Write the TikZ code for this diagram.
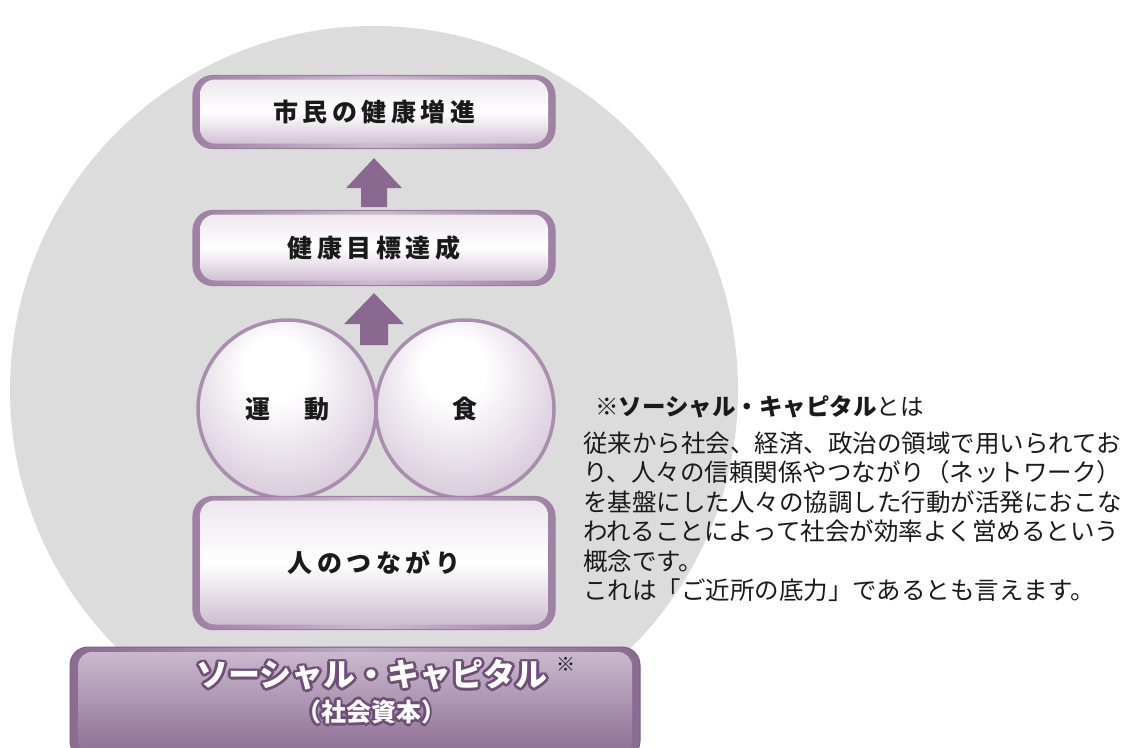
\documentclass[tikz,border=0pt]{standalone}
\usepackage{fontspec}
\usetikzlibrary{calc}
\newfontfamily\jp{Noto Sans CJK JP}
\newfontfamily\jpls[LetterSpace=18]{Noto Sans CJK JP}
\definecolor{bgray}{HTML}{DCDCDD}
\definecolor{boxedge}{HTML}{9E80A3}
\definecolor{boxmid}{HTML}{CDBCD0}
\definecolor{lav}{HTML}{CBB8CE}
\definecolor{boxtop}{HTML}{EDE4EE}
\definecolor{arrowc}{HTML}{8A6990}
\definecolor{circedge}{HTML}{A88EAC}
\definecolor{ballmid}{HTML}{D9CDDC}
\definecolor{ballout}{HTML}{BBA4C0}
\definecolor{bartop}{HTML}{BCA6C1}
\definecolor{barbot}{HTML}{8A6B91}
\definecolor{baredge}{HTML}{7E5F86}
\definecolor{barline}{HTML}{6E4E77}
\definecolor{txt}{HTML}{1A1A1A}
\pgfdeclareradialshading{sph}{\pgfpoint{-4bp}{14bp}}{color(0bp)=(white);color(9bp)=(white);color(30bp)=(ballmid);color(50bp)=(ballout)}
\tikzset{
  pillow/.style={rounded corners=20pt, draw=boxedge, line width=1.2pt,
    left color=boxedge, right color=boxedge, middle color=boxmid,
    minimum width=362pt, inner sep=0pt, text=txt,
    font=\jpls\bfseries\fontsize{25}{25}\selectfont,
    path picture={\shade[rounded corners=15pt, top color=boxtop, bottom color=lav, middle color=white]
      ([xshift=7pt,yshift=-4pt]path picture bounding box.north west) rectangle
      ([xshift=-7pt,yshift=5pt]path picture bounding box.south east);}},
  ball/.style={circle, minimum size=178pt, inner sep=0pt, draw=circedge, line width=3.5pt,
    shading=sph, text=txt, font=\jpls\bfseries\fontsize{25}{25}\selectfont},
  barbox/.style={rounded corners=18pt, draw=baredge, line width=1pt,
    left color=barbot, right color=barbot, middle color=bartop,
    minimum width=570pt, minimum height=112pt, inner sep=0pt,
    path picture={\shade[rounded corners=14pt, top color=bartop!75!white, bottom color=barbot]
      ([xshift=8pt,yshift=-5pt]path picture bounding box.north west) rectangle
      ([xshift=-8pt,yshift=5pt]path picture bounding box.south east);}},
  arr/.style={fill=arrowc},
  bigfont/.style={font=\jp\bfseries\fontsize{32}{32}\selectfont, inner sep=0pt},
  subfont/.style={font=\jp\bfseries\fontsize{25}{25}\selectfont, inner sep=0pt},
  body/.style={anchor=base west, inner sep=0pt, text=txt, font=\jp\fontsize{24.5}{29.5}\selectfont}
}
\begin{document}
\begin{tikzpicture}[x=1pt,y=-1pt]
\useasboundingbox (0,0) rectangle (1126,747);
\fill[white] (0,0) rectangle (1126,747);
% background disc
\fill[bgray] (374,390) circle (364pt);

% boxes
\node[pillow, minimum height=73pt] (b1) at (374,112) {市民の健康増進};
\node[pillow, minimum height=75pt] (b2) at (374,248) {健康目標達成};

% block arrows
\fill[arr] ($(b1.south)+(0,9)$) -- ++(28,30) -- ++(-15,0) -- ++(0,19) -- ++(-26,0) -- ++(0,-19) -- ++(-15,0) -- cycle;
\fill[arr] ($(b2.south)+(0,7)$) -- ++(30,31) -- ++(-16,0) -- ++(0,21) -- ++(-28,0) -- ++(0,-21) -- ++(-16,0) -- cycle;

% balls
\node[ball] (c1) at (287,409) {運　動};
\node[ball] (c2) at (465,409) {食};

\node[pillow, minimum height=133pt] (b3) at (374,563) {人のつながり};

% social capital bar
\node[barbox] (sc) at (355,703) {};
\coordinate (sct) at (372,675);
\coordinate (sst) at (371,712);
\foreach \a in {0,45,...,315}{
  \node[bigfont, text=barline] (so\a) at ($(sct)+(\a:2.8pt)$) {ソーシャル・キャピタル};
  \node[subfont, text=barline] (ss\a) at ($(sst)+(\a:2.6pt)$) {（社会資本）};
}
\node[bigfont, text=white] (scl) at (sct) {ソーシャル・キャピタル};
\node[subfont, text=white] (ssl) at (sst) {（社会資本）};
\node[font=\jp\fontsize{19}{19}\selectfont, inner sep=0pt, text=txt] (mark) at (566,664) {※};

% explanation
\node[anchor=base west, inner sep=0pt, text=txt, font=\jp\fontsize{23.5}{24}\selectfont] (hd) at (595,415) {{\bfseries ※ソーシャル・キャピタル}とは};
\node[body] (d1) at (583,452) {従来から社会、経済、政治の領域で用いられてお};
\node[body] (d2) at (583,481.5) {り、人々の信頼関係やつながり（ネットワーク）};
\node[body] (d3) at (583,511) {を基盤にした人々の協調した行動が活発におこな};
\node[body] (d4) at (583,540.5) {われることによって社会が効率よく営めるという};
\node[body] (d5) at (583,570) {概念です。};
\node[body] (d6) at (583,599.5) {これは「ご近所の底力」であるとも言えます。};
\end{tikzpicture}
\end{document}
